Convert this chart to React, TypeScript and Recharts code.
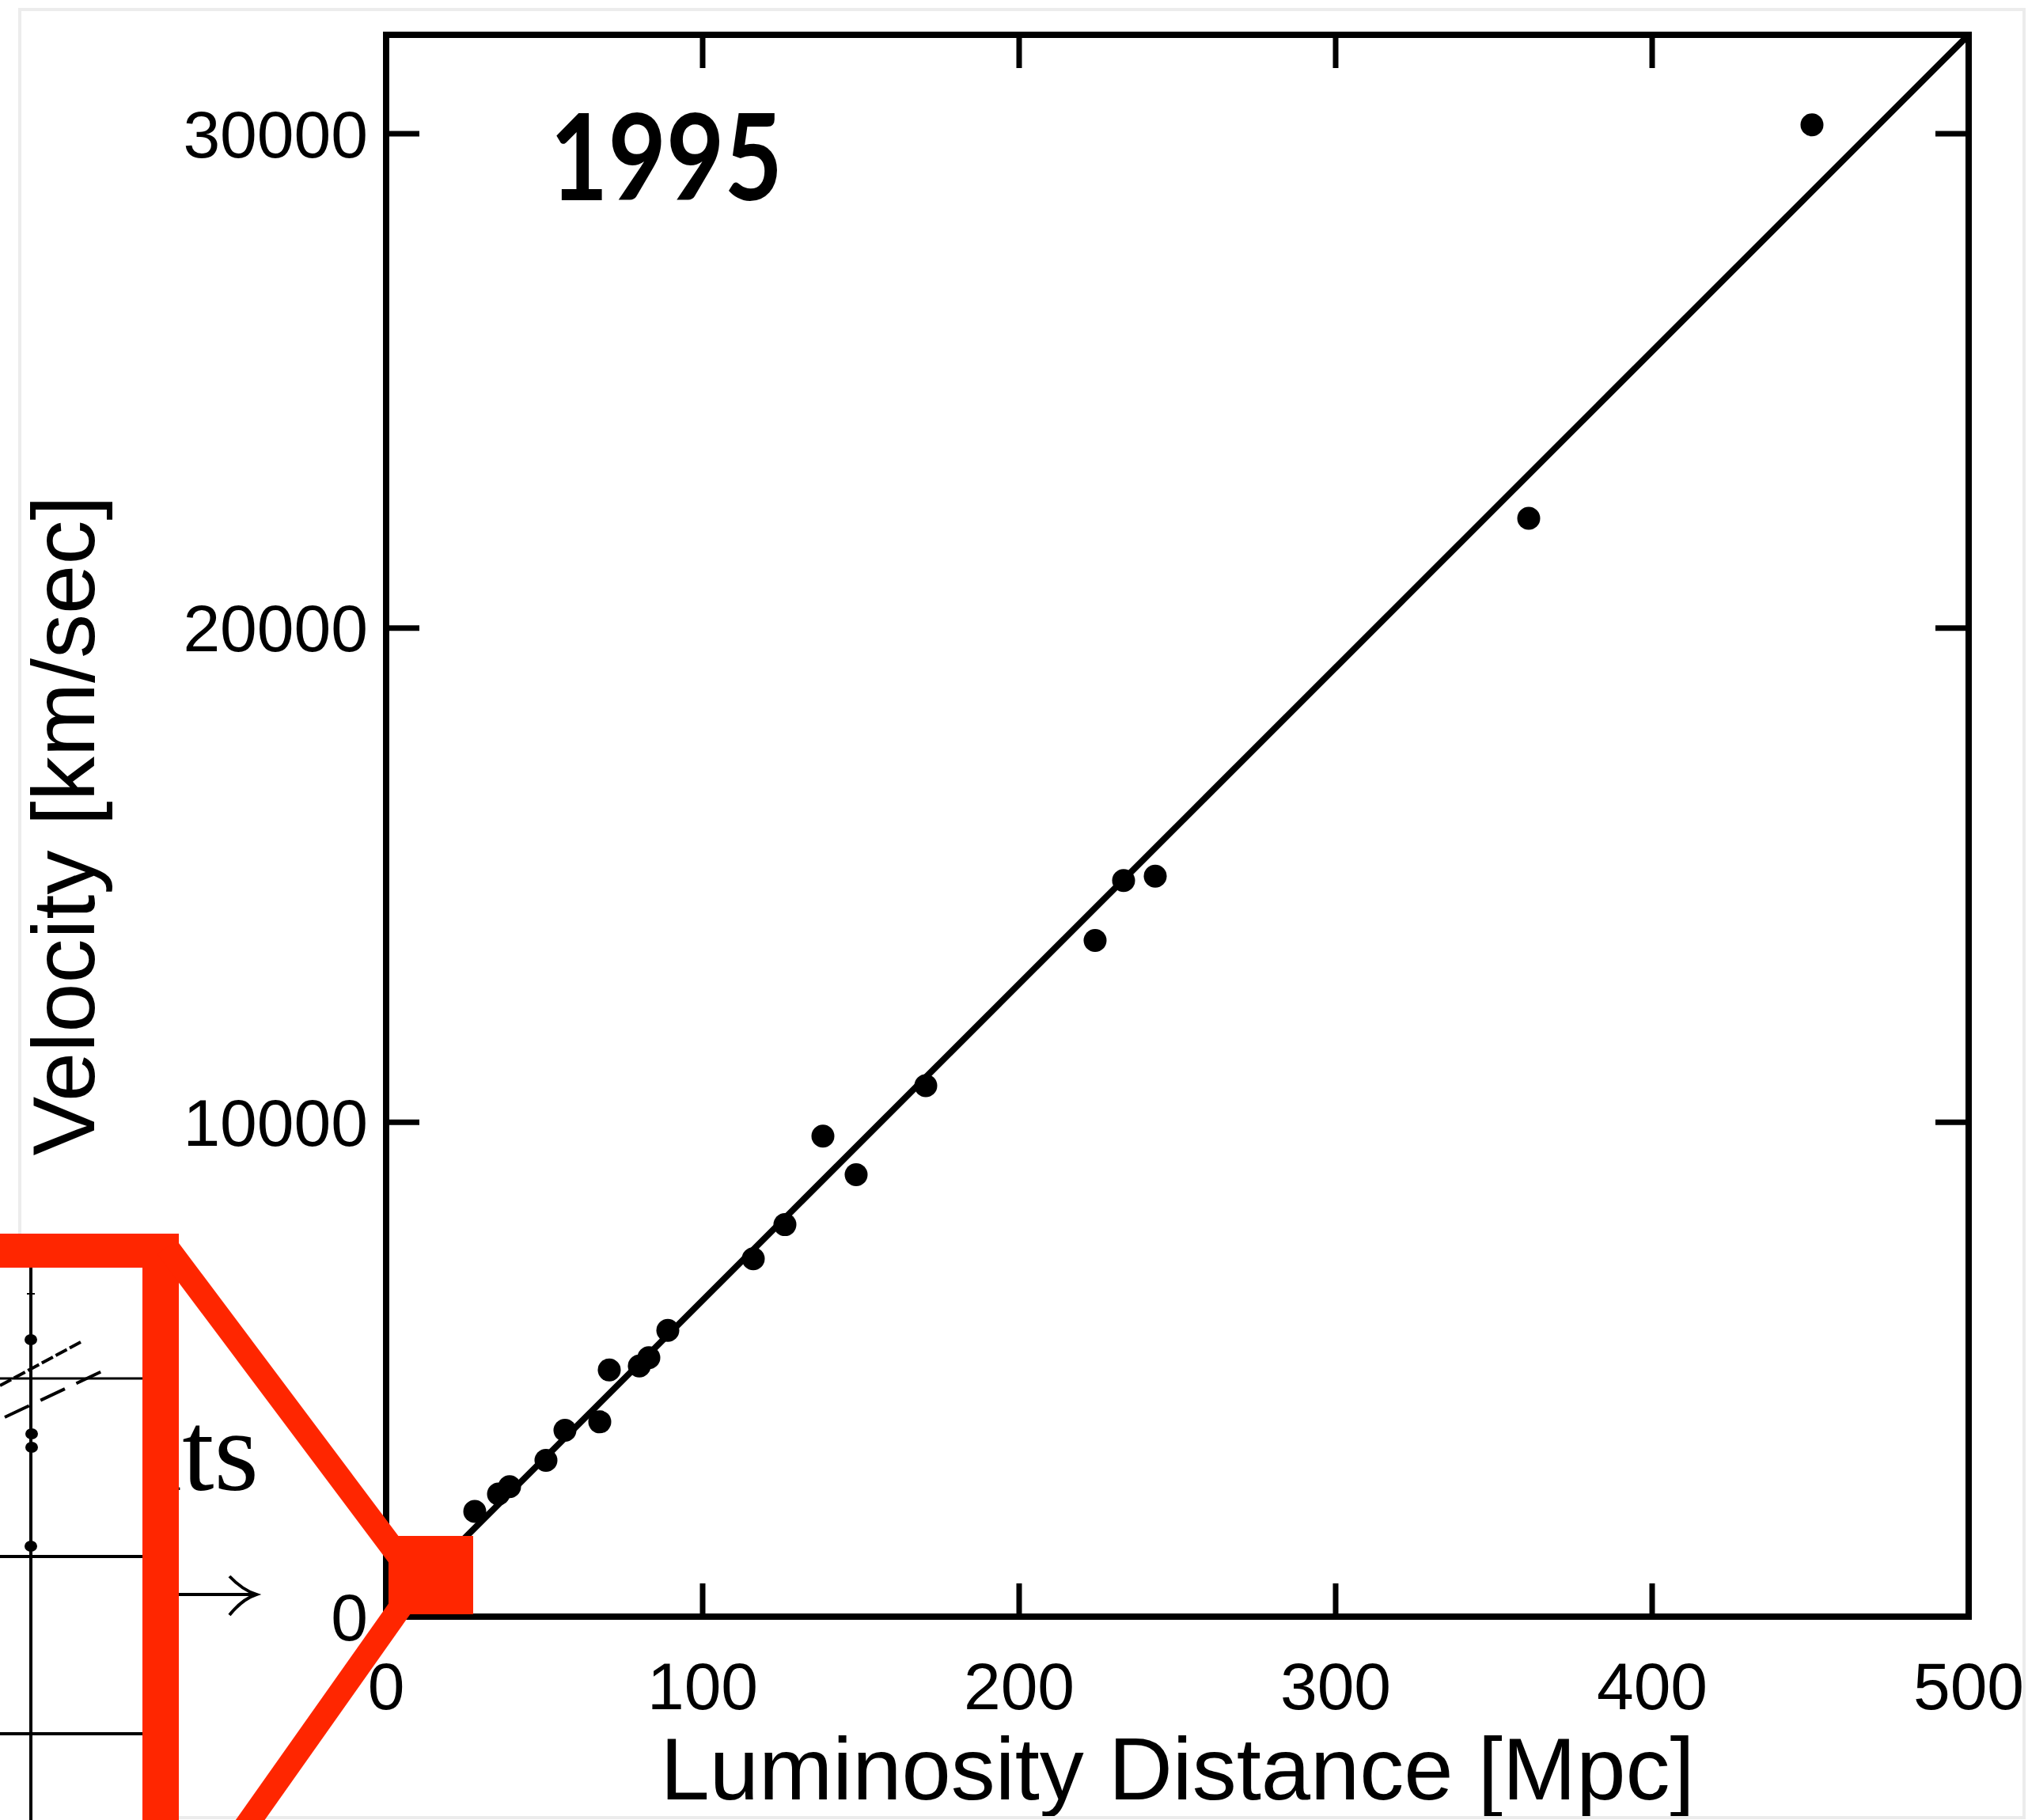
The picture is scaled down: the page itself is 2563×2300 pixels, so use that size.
import React from "react";
import { ComposedChart, Scatter, XAxis, YAxis } from "recharts";

// Type Ia supernovae Hubble diagram, 1995 sample
const DISTANCE_MPC = [28, 35.5, 39, 50.5, 56.5, 67.5, 70.5, 80, 83, 89, 116, 126, 138, 148.5, 170.5, 224, 233, 243, 361, 450.5];
const VELOCITY_KMS = [2130, 2480, 2630, 3160, 3770, 3940, 4990, 5070, 5240, 5790, 7240, 7930, 9720, 8940, 10740, 13680, 14890, 14980, 22220, 30180];

const X_TICKS = [0, 100, 200, 300, 400, 500];
const Y_TICKS = [0, 10000, 20000, 30000];
const X_DOMAIN: [number, number] = [0, 500];
const Y_DOMAIN: [number, number] = [0, 32000];

// fitted Hubble law, v = H0 * d
const HUBBLE_H0 = 64;
const FIT_DISTANCES = [0, 500];

const points = DISTANCE_MPC.map((d, i) => ({ d, v: VELOCITY_KMS[i] }));
const fitLine = FIT_DISTANCES.map((d) => ({ d, v: HUBBLE_H0 * d }));

const W = 2563;
const H = 2300;
const SANS = '"Liberation Sans", Arial, Helvetica, sans-serif';
const SERIF = '"Liberation Serif", "Times New Roman", serif';
const RED = "#ff2600";

const frameLine = { stroke: "#000", strokeWidth: 8, strokeLinecap: "square" as const };
const tickLine = { stroke: "#000", strokeWidth: 7 };
const tickText = { fontSize: 84, fill: "#000", fontFamily: SANS };

function Dot(props: any) {
	const { cx, cy } = props;
	if (cx == null || cy == null) return <g />;
	return <circle cx={cx} cy={cy} r={14.5} fill="#000" />;
}

// empty shape: used where a mark or label must be drawn as nothing
function NoShape() {
	return <g />;
}

function VelocityLabel(props: any) {
	const vb = props.viewBox || { x: 0, y: 0, width: 0, height: 0 };
	const x = vb.x + 119;
	const y = vb.y + vb.height / 2;
	return (
		<text
			x={x}
			y={y}
			transform={`rotate(-90, ${x}, ${y})`}
			textAnchor="middle"
			fontSize={112}
			fontFamily={SANS}
			fill="#000"
		>
			Velocity [km/sec]
		</text>
	);
}

// cropped piece of the 1929 plot that sits inside the red callout
function Inset1929() {
	return (
		<g>
			<rect x={0} y={1602} width={182} height={H - 1602} fill="#fff" />
			<line x1={39} y1={1602} x2={39} y2={H} stroke="#000" strokeWidth={4} />
			<line x1={0} y1={1742} x2={182} y2={1742} stroke="#000" strokeWidth={3} />
			<line x1={0} y1={1967} x2={182} y2={1967} stroke="#000" strokeWidth={4} />
			<line x1={0} y1={2191} x2={182} y2={2191} stroke="#000" strokeWidth={4} />
			<line x1={34} y1={1635} x2={44} y2={1635} stroke="#000" strokeWidth={2} />
			<line x1={0} y1={1751} x2={102} y2={1696} stroke="#000" strokeWidth={4} strokeDasharray="16 4" />
			<line x1={6} y1={1791} x2={131} y2={1732} stroke="#000" strokeWidth={4} strokeDasharray="34 16" />
			<ellipse cx={39} cy={1693} rx={8} ry={7} fill="#000" />
			<ellipse cx={40} cy={1812} rx={8} ry={7} fill="#000" />
			<ellipse cx={40} cy={1829} rx={8} ry={7} fill="#000" />
			<ellipse cx={39} cy={1954} rx={8} ry={7} fill="#000" />
		</g>
	);
}

function Overlay() {
	return (
		<svg
			width={W}
			height={H}
			style={{ position: "absolute", left: 0, top: 0, pointerEvents: "none" }}
		>
			{/* light frame around the slide image */}
			<rect x={25} y={12} width={2533} height={2285} fill="none" stroke="#ececec" strokeWidth={4} />

			<text
				x={695}
				y={253}
				fontSize={152}
				fontWeight={700}
				fontFamily='Lato, "Open Sans", sans-serif'
				textLength={294}
				lengthAdjust="spacingAndGlyphs"
				fill="#000"
			>
				1995
			</text>

			{/* slide text peeking out from behind the callout */}
			<text x={327} y={1883} fontSize={145} fontFamily={SERIF} textAnchor="end" fill="#000">
				lts
			</text>
			<path d="M150 2015 L320 2015" stroke="#000" strokeWidth={4} fill="none" />
			<path d="M290 1992 Q306 2009 324 2015 Q306 2021 290 2041" stroke="#000" strokeWidth={4} fill="none" />

			<Inset1929 />

			{/* red callout */}
			<rect x={0} y={1559} width={226} height={43} fill={RED} />
			<rect x={180} y={1559} width={46} height={H - 1559} fill={RED} />
			<line x1={211} y1={1576} x2={508} y2={1972} stroke={RED} strokeWidth={30} />
			<line x1={507} y1={2030} x2={295} y2={2330} stroke={RED} strokeWidth={30} />
			<rect x={491} y={1941} width={107} height={99} fill={RED} />
		</svg>
	);
}

export default function App() {
	return (
		<div
			style={{
				position: "absolute",
				left: 0,
				top: 0,
				width: W,
				height: H,
				background: "#fff",
				overflow: "hidden",
			}}
		>
			<ComposedChart
				width={W}
				height={H}
				margin={{ top: 43, right: 74, bottom: 0, left: 0 }}
			>
				<XAxis
					xAxisId="bottom"
					type="number"
					dataKey="d"
					orientation="bottom"
					domain={X_DOMAIN}
					ticks={X_TICKS}
					interval={0}
					allowDataOverflow
					height={257}
					tickSize={-42}
					tickMargin={99}
					axisLine={frameLine}
					tickLine={tickLine}
					tick={tickText}
					label={{
						value: "Luminosity Distance [Mpc]",
						position: "insideBottom",
						offset: 26,
						fontSize: 112,
						fill: "#000",
						fontFamily: SANS,
					}}
				/>
				<XAxis
					xAxisId="top"
					type="number"
					dataKey="d"
					orientation="top"
					domain={X_DOMAIN}
					ticks={X_TICKS}
					interval={0}
					allowDataOverflow
					height={1}
					tickSize={-42}
					axisLine={frameLine}
					tickLine={tickLine}
					tick={<NoShape />}
				/>
				<YAxis
					yAxisId="left"
					type="number"
					dataKey="v"
					orientation="left"
					domain={Y_DOMAIN}
					ticks={Y_TICKS}
					interval={0}
					allowDataOverflow
					width={488}
					tickSize={-42}
					tickMargin={65}
					axisLine={frameLine}
					tickLine={tickLine}
					tick={tickText}
					label={<VelocityLabel />}
				/>
				<YAxis
					yAxisId="right"
					type="number"
					dataKey="v"
					orientation="right"
					domain={Y_DOMAIN}
					ticks={Y_TICKS}
					interval={0}
					allowDataOverflow
					width={1}
					tickSize={-42}
					axisLine={frameLine}
					tickLine={tickLine}
					tick={<NoShape />}
				/>
				<Scatter
					xAxisId="top"
					yAxisId="right"
					data={fitLine}
					line={{ stroke: "#000", strokeWidth: 8 }}
					shape={<NoShape />}
					isAnimationActive={false}
				/>
				<Scatter
					xAxisId="bottom"
					yAxisId="left"
					data={points}
					fill="#000"
					shape={<Dot />}
					isAnimationActive={false}
				/>
			</ComposedChart>
			<Overlay />
		</div>
	);
}
